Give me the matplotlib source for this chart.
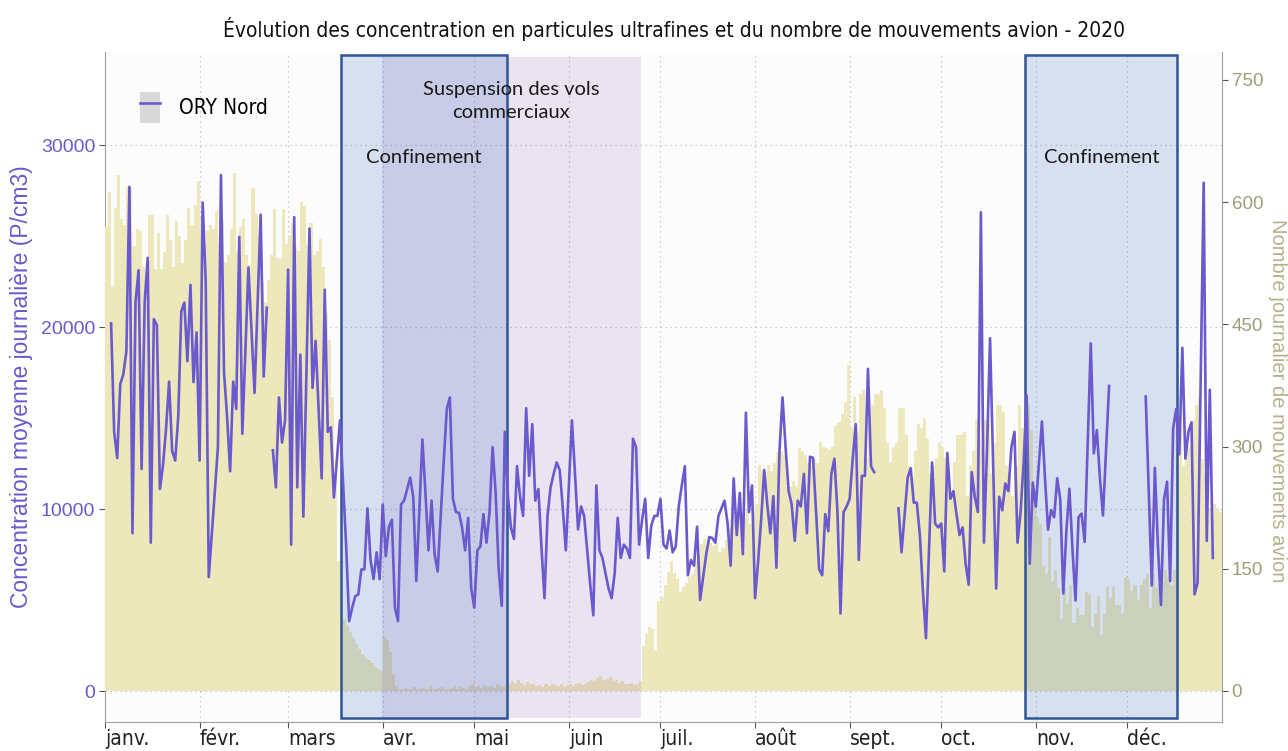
import matplotlib
matplotlib.use("Agg")
import matplotlib.pyplot as plt
from matplotlib.patches import Patch
from matplotlib.lines import Line2D
from matplotlib.legend_handler import HandlerTuple
import numpy as np
import pandas as pd

nan = np.nan

# ---------------------------------------------------------------- data
DAYS = pd.date_range("2020-01-01", "2020-12-31", freq="D")
MONTH_LABELS = ["janv.", "févr.", "mars", "avr.", "mai", "juin",
                "juil.", "août", "sept.", "oct.", "nov.", "déc."]

# daily mean concentration, ORY Nord (P/cm3), one list per month
conc_jan = [nan, nan, 20200, 14240, 12800, 16860, 17400, 18650, 27700, 8670,
            21380, 23120, 12200, 21380, 23800, 8150, 20430, 20100, 11100, 12400,
            14400, 17000, 13190, 12660, 15080, 20850, 21340, 18120, 22320, 16970,
            19700]
conc_feb = [12660, 26840, 22500, 6260, 8670, 11000, 13400, 28350, 17500, 15080,
            12075, 17000, 15500, 24950, 14130, 18700, 23270, 19800, 16380, 21270,
            26170, 17280, 21060, nan, 13230, 11190, 16130, 13650, 14870]
conc_mar = [23160, 8040, 26040, 11190, 18480, 9580, 17500, 25410, 16650, 19240,
            15500, 11680, 22050, 14240, 14490, 10630, 12730, 14870, 11450, 8040,
            3840, 4580, 5210, 5310, 6680, 6680, 10040, 7200, 6150, 7620,
            6150]
conc_apr = [10250, 7410, 8990, 9410, 4580, 3840, 10250, 10460, 11090, 11720,
            10670, 6050, 9930, 13820, 10880, 7730, 10460, 7520, 6570, 9620,
            12660, 15500, 16130, 10560, 9830, 9790, 8990, 7730, 9510, 5630]
conc_may = [4580, 7730, 7940, 9720, 8150, 9830, 13400, 10880, 6680, 4680,
            14240, 10770, 8990, 8360, 12350, 10670, 9620, 15540, 11820, 14660,
            10460, 11090, 7940, 5100, 9620, 11190, 11930, 12560, 12140, 10040,
            7730]
conc_jun = [11300, 14870, 11930, 8880, 10140, 9620, 7730, 5840, 4160, 11300,
            7730, 7310, 6470, 5630, 5100, 6470, 9510, 7310, 8040, 7830,
            7310, 13860, 13400, 8040, 9410, 10560, 7310, 9090, 9620, 9620]
conc_jul = [10560, 8040, 7830, 8820, 7620, 7940, 10140, 11300, 12350, 6360,
            7200, 6890, 9030, 5000, 6260, 7520, 8460, 8400, 8150, 9620,
            10040, 10460, 9200, 6890, 11680, 8570, 10880, 7520, 15290, 9830,
            11300]
conc_aug = [5100, 7100, 9410, 12140, 10250, 8670, 10710, 6780, 13190, 16130,
            13400, 10980, 10250, 8250, 10460, 10140, 11930, 8670, 12870, 12810,
            9830, 6680, 6360, 9720, 8780, 11930, 12770, 9830, 4260, 9830,
            10140]
conc_sep = [10560, 12770, 14660, 7200, 11820, 11820, 17700, 12350, 12030, nan,
            nan, nan, nan, nan, nan, nan, 10040, 7620, 9700, 11720,
            12240, 10350, 10350, 8570, 5500, 2900, 7730, 12560, 9200, 8990]
conc_oct = [9200, 6570, 13080, 10560, 10980, 9720, 8570, 8990, 6990, 5840,
            12030, 10670, 9830, 26300, 8150, 13200, 19380, 12560, 5630, 10670,
            9930, 11400, 10980, 13400, 14240, 8150, 9830, 12560, 16230, 6990,
            11450]
conc_nov = [10130, 12470, 14810, 11690, 8870, 9940, 9550, 11690, 10520, 5360,
            8770, 11110, 7800, 4970, 9550, 9750, 8190, 13640, 19100, 13060,
            14330, 11690, 9650, 13250, 16760, nan, nan, nan, nan, nan]
conc_dec = [nan, nan, nan, nan, nan, nan, 16180, 11000, 5800, 12260,
            8000, 4730, 10540, 11500, 6040, 14450, 15500, 13000, 18860, 12770,
            14240, 14760, 5310, 5940, 16970, 27930, 8250, 16550, 7310, nan,
            nan]

# daily aircraft movements (right axis), one list per month
mvt_jan = [570, 612, 497, 593, 633, 579, 572, 619, 617, 546,
           567, 565, 520, 497, 584, 584, 518, 562, 518, 539,
           584, 553, 520, 577, 558, 525, 553, 593, 572, 596,
           626]
mvt_feb = [581, 549, 565, 572, 567, 589, 549, 577, 527, 535,
           567, 636, 539, 570, 579, 535, 523, 617, 586, 560,
           502, 478, 504, 535, 591, 532, 530, 591, 549]
mvt_mar = [560, 575, 545, 540, 600, 595, 548, 575, 535, 540,
           555, 520, 464, 431, 361, 267, 160, 110, 88, 80,
           72, 65, 58, 52, 46, 42, 38, 34, 30, 27,
           24]
mvt_apr = [66, 62, 48, 20, 6, 3, 2, 4, 2, 3,
           5, 2, 3, 4, 2, 6, 3, 2, 4, 5,
           3, 2, 4, 6, 3, 5, 4, 3, 6, 8]
mvt_may = [5, 6, 4, 7, 5, 6, 4, 8, 6, 5,
           7, 9, 12, 8, 13, 10, 7, 11, 9, 8,
           6, 7, 5, 8, 6, 9, 7, 6, 8, 5,
           7]
mvt_jun = [9, 6, 8, 10, 7, 9, 11, 14, 12, 16,
           18, 13, 15, 17, 12, 14, 10, 12, 9, 8,
           10, 7, 9, 12, 55, 70, 79, 76, 50, 111]
mvt_jul = [115, 130, 146, 159, 145, 137, 122, 128, 133, 140,
           143, 160, 167, 180, 186, 175, 182, 178, 182, 170,
           176, 185, 200, 216, 210, 218, 220, 212, 222, 205,
           220]
mvt_aug = [230, 277, 270, 265, 277, 270, 280, 293, 295, 290,
           255, 250, 258, 252, 298, 295, 290, 280, 275, 285,
           280, 306, 300, 298, 296, 300, 325, 330, 340, 355,
           400]
mvt_sep = [323, 361, 318, 365, 370, 286, 333, 351, 365, 365,
           370, 347, 304, 281, 300, 304, 347, 347, 314, 276,
           262, 295, 328, 323, 335, 309, 267, 276, 286, 304]
mvt_oct = [300, 286, 253, 239, 281, 314, 314, 318, 239, 276,
           295, 333, 309, 300, 333, 328, 267, 304, 351, 351,
           342, 276, 267, 239, 276, 351, 323, 323, 351, 320,
           238]
mvt_nov = [212, 205, 154, 144, 189, 135, 149, 126, 88, 126,
           107, 130, 83, 102, 93, 93, 121, 119, 79, 95,
           116, 69, 95, 128, 114, 128, 105, 105, 95, 140]
mvt_dec = [137, 123, 130, 112, 130, 137, 144, 102, 144, 126,
           133, 135, 149, 140, 130, 149, 290, 327, 276, 299,
           299, 332, 351, 360, 285, 266, 224, 224, 230, 225,
           220]

# shaded periods
LOCKDOWNS = [("2020-03-18 11:00", "2020-05-11 17:00"),
             ("2020-10-28 14:00", "2020-12-17 07:00")]
SUSPENSION = ("2020-03-31 19:00", "2020-06-24 12:00")

conc = np.array(conc_jan + conc_feb + conc_mar + conc_apr + conc_may + conc_jun
                + conc_jul + conc_aug + conc_sep + conc_oct + conc_nov + conc_dec,
                dtype=float)
mvt = np.array(mvt_jan + mvt_feb + mvt_mar + mvt_apr + mvt_may + mvt_jun
               + mvt_jul + mvt_aug + mvt_sep + mvt_oct + mvt_nov + mvt_dec,
               dtype=float)

# ---------------------------------------------------------------- style
LINE_C = "#6a5acd"
BAR_C = "#ede8bb"
RIGHT_TICK_C = "#9f9c78"
RIGHT_LAB_C = "#b5b18a"
NARROW = dict(family=["Liberation Sans Narrow", "DejaVu Sans"],
              stretch="condensed")
REG = ["Liberation Sans", "DejaVu Sans"]
ANNOT = ["Lato", "DejaVu Sans"]
GRID = dict(color="#bdbdbd", linestyle=(0, (1, 3)), linewidth=0.9)

fig = plt.figure(figsize=(12.88, 7.51), dpi=100)
ax = fig.add_axes([105 / 1288, 1 - 722 / 751, 1117 / 1288, 670 / 751])
ax.set_facecolor("#fcfcfc")

x0 = pd.Timestamp("2020-01-01")
x1 = pd.Timestamp("2021-01-01")
ax.set_xlim(x0, x1)
ax.set_ylim(-1703, 35110)

# grid on the bottom layer (hidden by bars)
yt = [0, 10000, 20000, 30000]
month_starts = pd.date_range("2020-01-01", "2020-12-01", freq="MS")
for v in yt:
    ax.axhline(v, zorder=0, **GRID)
for m in month_starts[1:]:
    ax.axvline(m, zorder=0, **GRID)

ax.set_yticks(yt)
ax.set_yticklabels([str(v) for v in yt], color=LINE_C, fontsize=14,
                   family=REG)
ax.set_ylabel("Concentration moyenne journalière (P/cm3)", color=LINE_C,
              fontsize=16.5, family=REG, labelpad=6)
ax.set_xticks(month_starts)
ax.set_xticklabels(MONTH_LABELS, fontsize=15, ha="left", color="#222222",
                   **NARROW)
ax.tick_params(axis="x", length=4, color="#555555", pad=1)
ax.tick_params(axis="y", length=4, color="#555555", pad=3)
for s in ("top", "right"):
    ax.spines[s].set_visible(False)
for s in ("left", "bottom"):
    ax.spines[s].set_color("#a0a0a0")

# bars: aircraft movements, right axis
axb = ax.twinx()
axb.set_ylim(-38.05, 784.3)
axb.bar(DAYS, mvt, width=1.0, align="edge", color=BAR_C, linewidth=0,
        zorder=1)
for a, b in LOCKDOWNS:
    axb.axvspan(pd.Timestamp(a), pd.Timestamp(b), ymin=0.006, ymax=0.9955,
                facecolor=(0.267, 0.447, 0.769, 0.2), edgecolor="#2f5597",
                linewidth=1.8, zorder=3)
axb.axvspan(pd.Timestamp(SUSPENSION[0]), pd.Timestamp(SUSPENSION[1]),
            ymin=0.006, ymax=0.9925, facecolor=(0.44, 0.19, 0.63, 0.12),
            linewidth=0, zorder=2)
axb.set_yticks([0, 150, 300, 450, 600, 750])
axb.set_yticklabels(["0", "150", "300", "450", "600", "750"],
                    color=RIGHT_TICK_C, fontsize=13.5, family=REG)
axb.tick_params(axis="y", length=4, color="#555555", pad=3)
axb.set_ylabel("Nombre journalier de mouvements avion", color=RIGHT_LAB_C,
               fontsize=14.5, family=REG, rotation=-90, labelpad=16)
axb.yaxis.set_label_coords(1.058, 0.48)
for s in ("top", "left", "bottom"):
    axb.spines[s].set_visible(False)
axb.spines["right"].set_color("#a0a0a0")

# line: concentration, on top
axl = ax.twinx()
axl.set_ylim(ax.get_ylim())
axl.set_axis_off()
axl.plot(DAYS, conc, color=LINE_C, linewidth=1.9, zorder=5)

tr = axl.get_xaxis_transform()
for a, b in LOCKDOWNS:
    mid = pd.Timestamp(a) + (pd.Timestamp(b) - pd.Timestamp(a)) / 2
    axl.text(mid, 0.842, "Confinement", transform=tr, ha="center",
             va="center", fontsize=14.5, family=ANNOT, color="#1a1a1a")
mid = pd.Timestamp(SUSPENSION[0]) + (pd.Timestamp(SUSPENSION[1])
                                     - pd.Timestamp(SUSPENSION[0])) / 2
axl.text(mid, 0.927, "Suspension des vols\ncommerciaux", transform=tr,
         ha="center", va="center", fontsize=14.5, family=ANNOT,
         color="#1a1a1a", linespacing=1.4)

key = (Patch(facecolor="#d9d9d9", edgecolor="none"),
       Line2D([], [], color=LINE_C, linewidth=1.9))
axl.legend([key], ["ORY Nord"], handler_map={tuple: HandlerTuple(ndivide=1, pad=0)},
           loc="upper left", bbox_to_anchor=(0.031, 0.94), frameon=False,
           borderpad=0, borderaxespad=0, handlelength=1.0, handleheight=1.9,
           handletextpad=0.9,
           prop={"family": NARROW["family"], "stretch": "condensed", "size": 15})

fig.text(0.523, 0.962,
         "Évolution des concentration en particules ultrafines et du nombre "
         "de mouvements avion - 2020",
         ha="center", va="center", fontsize=15, color="#111111", **NARROW)

fig.savefig("out.png", dpi=100)
